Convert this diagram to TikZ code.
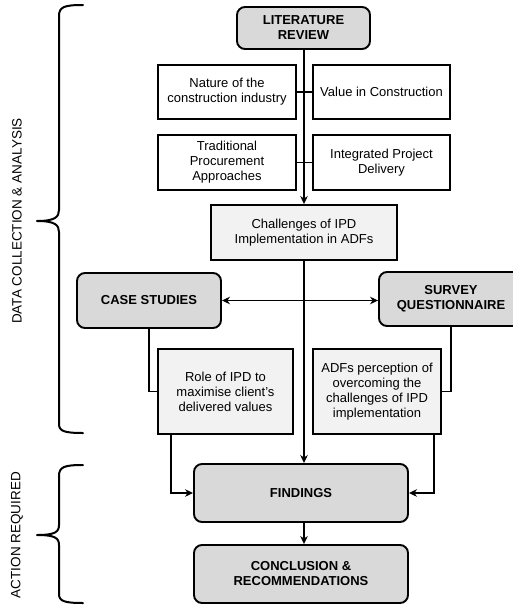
\documentclass[tikz,border=0pt]{standalone}
\usepackage{fontspec}
\setmainfont{Liberation Sans}
\usetikzlibrary{arrows.meta,calc}
\definecolor{darkfill}{HTML}{D9D9D9}
\definecolor{lightfill}{HTML}{F2F2F2}
\begin{document}
\begin{tikzpicture}[x=1pt,y=-1pt,
  box/.style={draw=black, line width=1.9pt, align=center, inner sep=1pt,
    font=\fontsize{13}{15}\selectfont},
  plainbox/.style={box, fill=white},
  lightbox/.style={box, fill=lightfill},
  roundbox/.style={box, fill=darkfill, rounded corners=8pt,
    font=\fontsize{13}{15}\selectfont\bfseries},
  conn/.style={line width=1.9pt},
  arr/.style={conn, -{Stealth[length=8pt,width=7.5pt,inset=2.5pt]}},
  darr/.style={conn, {Stealth[length=8pt,width=7.5pt,inset=2.5pt]}-{Stealth[length=8pt,width=7.5pt,inset=2.5pt]}},
  brace/.style={line width=2pt, line cap=round, line join=round},
  sidelabel/.style={rotate=90, font=\fontsize{13.5}{15}\selectfont}
]
\useasboundingbox (0,0) rectangle (513,605);

% nodes
\node[roundbox, minimum width=133pt, minimum height=42pt] (lr) at (303.5,28) {LITERATURE\\REVIEW};
\node[plainbox, minimum width=138pt, minimum height=54pt] (nat) at (227,92) {Nature of the\\construction industry};
\node[plainbox, minimum width=137pt, minimum height=54pt] (val) at (381.5,92) {Value in Construction};
\node[plainbox, minimum width=138pt, minimum height=55pt] (trad) at (227,162.5) {Traditional\\Procurement\\Approaches};
\node[plainbox, minimum width=137pt, minimum height=55pt] (ipd) at (381.5,162.5) {Integrated Project\\Delivery};
\node[lightbox, minimum width=186pt, minimum height=55pt] (chal) at (304,232.5) {Challenges of IPD\\Implementation in ADFs};
\node[roundbox, minimum width=144pt, minimum height=55pt] (case) at (149,300.5) {CASE STUDIES};
\node[roundbox, minimum width=144pt, minimum height=54pt] (surv) at (451,299) {SURVEY\\QUESTIONNAIRE};
\node[lightbox, minimum width=135pt, minimum height=85pt] (role) at (225.5,391.5) {Role of IPD to\\maximise client's\\delivered values};
\node[lightbox, minimum width=128pt, minimum height=85pt] (adf) at (377,391.5) {ADFs perception of\\overcoming the\\challenges of IPD\\implementation};
\node[roundbox, minimum width=214pt, minimum height=58pt] (find) at (301,493) {FINDINGS};
\node[roundbox, minimum width=214pt, minimum height=58pt] (conc) at (301,574) {CONCLUSION \&\\RECOMMENDATIONS};

% side labels
\node[sidelabel] (dca) at (17,221) {DATA COLLECTION \& ANALYSIS};
\node[sidelabel] (act) at (17,535) {ACTION REQUIRED};

% connectors
\coordinate (mainx) at (304,0);
\draw[conn] (nat.east) -- (val.west);
\draw[conn] (trad.east) -- (ipd.west);
\draw[arr] (lr.south -| mainx) -- (chal.north -| mainx);
\draw[arr] (chal.south -| mainx) -- (find.north -| mainx);
\draw[darr] (case.east) -- (surv.west |- case.east);
\draw[conn] (case.south) |- (role.west);
\draw[conn] (surv.south) |- (adf.east);
\draw[arr] ([xshift=14pt]role.south west) |- (find.west);
\draw[arr] ([xshift=-8pt]adf.south east) |- (find.east);
\draw[arr] (find.south -| mainx) -- (conc.north -| mainx);

% braces
\draw[brace] (83,5) .. controls (64,5) and (59,7) .. (59,16) -- (59,210)
  .. controls (59,217) and (55,221) .. (37,221)
  .. controls (55,221) and (59,225) .. (59,232) -- (59,424)
  .. controls (59,431) and (64,433) .. (83,433);
\draw[brace] (83,465) .. controls (64,465) and (59,467) .. (59,476) -- (59,525)
  .. controls (59,532) and (55,535) .. (37,535)
  .. controls (55,535) and (59,538) .. (59,545) -- (59,594)
  .. controls (59,601) and (64,603) .. (83,603);
\end{tikzpicture}
\end{document}
